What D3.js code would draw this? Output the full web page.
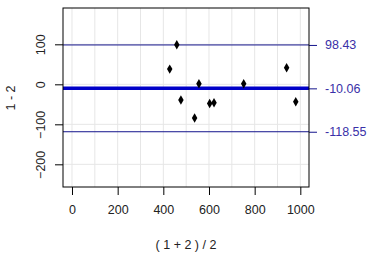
<!DOCTYPE html>
<html>
<head>
<meta charset="utf-8">
<script src="https://cdn.jsdelivr.net/npm/d3@7"></script>
<style>
  body { margin: 0; background: #fff; }
  svg text { font-family: "Liberation Sans", Arial, sans-serif; }
</style>
</head>
<body>
<div id="chart"></div>
<script>
// averages ( 1 + 2 ) / 2 and differences 1 - 2
const means = [428, 459, 477, 537, 556, 603, 622, 752, 940, 980];
const diffs = [38, 99, -39, -84, 1.5, -48, -46, 1.5, 41.5, -43.5];
const limitValues = [98.43, -10.06, -118.55];
const limitLabels = ['98.43', '-10.06', '-118.55'];
const xTicks = [0, 200, 400, 600, 800, 1000];
const yTicks = [100, 0, -100, -200];
const xGrid = [0, 100, 200, 300, 400, 500, 600, 700, 800, 900, 1000];
const yGrid = [100, 0, -100, -200];

const width = 378, height = 265;
const plot = { left: 63, right: 309, top: 8, bottom: 187 };

const svg = d3.select('#chart').append('svg')
    .attr('width', width)
    .attr('height', height);

//scales
const x = d3.scaleLinear().domain([-39.4, 1038]).range([plot.left, plot.right]);
const y = d3.scaleLinear().domain([-256.7, 190.8]).range([plot.bottom, plot.top]);

//grid first so it sits in the back
svg.append('g').selectAll('line')
    .data(xGrid)
  .enter().append('line')
    .attr('x1', d => x(d)).attr('x2', d => x(d))
    .attr('y1', plot.top).attr('y2', plot.bottom)
    .style('stroke', '#e6e6e6').style('stroke-width', 1);

svg.append('g').selectAll('line')
    .data(yGrid)
  .enter().append('line')
    .attr('y1', d => y(d)).attr('y2', d => y(d))
    .attr('x1', plot.left).attr('x2', plot.right)
    .style('stroke', '#e6e6e6').style('stroke-width', 1);

//limit lines across the box
svg.append('g').selectAll('line')
    .data(limitValues)
  .enter().append('line')
    .attr('x1', plot.left)
    .attr('x2', plot.right)
    .attr('y1', d => y(d)).attr('y2', d => y(d))
    .style('stroke', (d, i) => i === 1 ? '#0000c8' : '#14148c')
    .style('stroke-width', (d, i) => i === 1 ? 3.5 : 1);

//right axis with the limit values
const rAxis = d3.axisRight(y).tickValues(limitValues).tickSize(8).tickPadding(8)
    .tickFormat((d, i) => limitLabels[i]);
const gr = svg.append('g')
    .attr('transform', 'translate(' + plot.right + ',0)')
    .call(rAxis);
gr.select('.domain').remove();
gr.selectAll('line').style('stroke', '#14148c');
gr.selectAll('text').style('font-size', '12.5px').style('fill', '#3a30a8');

//box
svg.append('rect')
    .attr('x', plot.left).attr('y', plot.top)
    .attr('width', plot.right - plot.left)
    .attr('height', plot.bottom - plot.top)
    .style('fill', 'none').style('stroke', '#000').style('stroke-width', 1);

//axes
const xAxis = d3.axisBottom(x).tickValues(xTicks).tickFormat(d3.format('d')).tickSize(8).tickPadding(10);
const gx = svg.append('g')
    .attr('transform', 'translate(0,' + plot.bottom + ')')
    .call(xAxis);
gx.select('.domain').remove();
gx.selectAll('text').style('font-size', '12.5px').style('fill', '#222');

const yAxis = d3.axisLeft(y).tickValues(yTicks).tickSize(8);
const gy = svg.append('g')
    .attr('transform', 'translate(' + plot.left + ',0)')
    .call(yAxis);
gy.select('.domain').remove();
gy.selectAll('text')
    .attr('x', 0)
    .attr('dy', 0)
    .attr('transform', 'translate(-18,0) rotate(-90)')
    .style('text-anchor', 'middle')
    .style('font-size', '12.5px')
    .style('fill', '#222');

//points
const diamond = d3.symbol().type(d3.symbolDiamond).size(26);
svg.append('g').selectAll('path')
    .data(means)
  .enter().append('path')
    .attr('d', diamond)
    .attr('transform', (d, i) => 'translate(' + x(d) + ',' + y(diffs[i]) + ')')
    .style('fill', '#000');

//axis titles
svg.append('text')
    .attr('x', 186).attr('y', 249)
    .style('text-anchor', 'middle')
    .style('font-size', '12.5px')
    .style('fill', '#222')
    .text('( 1 + 2 ) / 2');

svg.append('text')
    .attr('transform', 'translate(15,98) rotate(-90)')
    .style('text-anchor', 'middle')
    .style('font-size', '12.5px')
    .style('fill', '#222')
    .text('1 - 2');
</script>
</body>
</html>
